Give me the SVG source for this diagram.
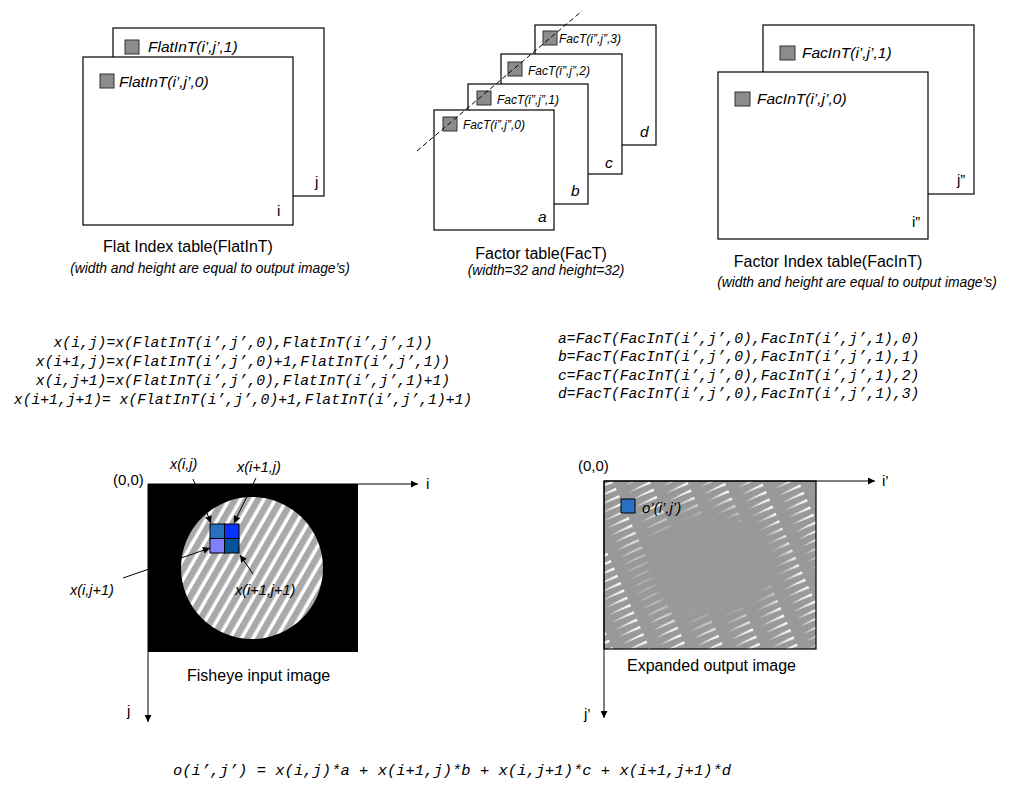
<svg xmlns="http://www.w3.org/2000/svg" width="1017" height="795" viewBox="0 0 1017 795">
<style>
.t{font-family:"Liberation Sans",Arial,sans-serif;fill:#000}
.it{font-style:italic}
.title{font-size:16px}
.note{font-size:13.8px;font-style:italic}
.lbl{font-size:15.5px;font-style:italic}
.sm{font-size:12px;font-style:italic}
.ax{font-size:15px}
.mono{font-family:"Liberation Mono","DejaVu Sans Mono",monospace;font-style:italic;font-size:14.7px;fill:#000}
.sheet{fill:#fff;stroke:#000;stroke-width:1.2}
.cell{fill:#8c8c8c;stroke:#333;stroke-width:1}
.line{stroke:#000;stroke-width:1;fill:none}
</style>
<defs>
<marker id="arr" viewBox="0 0 10 10" refX="10" refY="5" markerWidth="11" markerHeight="7" markerUnits="userSpaceOnUse" orient="auto">
<path d="M0,0 L10,5 L0,10 z" fill="#000"/>
</marker>
<marker id="arrs" viewBox="0 0 10 10" refX="10" refY="5" markerWidth="9" markerHeight="7" markerUnits="userSpaceOnUse" orient="auto">
<path d="M0,0 L10,5 L0,10 z" fill="#000"/>
</marker>
<pattern id="hatchIn" patternUnits="userSpaceOnUse" width="10" height="10" patternTransform="rotate(30)">
<rect width="10" height="10" fill="#fff"/>
<rect width="6.5" height="10" fill="#a9a9a9"/>
</pattern>
<pattern id="hatchOut" patternUnits="userSpaceOnUse" width="34" height="8" patternTransform="rotate(-24)">
<rect width="34" height="8" fill="#999"/>
<path d="M0,1.2 L24,0 L24,2.6 Z" fill="#fff"/>
</pattern>
<radialGradient id="edgeGrad" cx="0.5" cy="0.5" r="0.5">
<stop offset="0.55" stop-color="#000"/>
<stop offset="0.85" stop-color="#fff"/>
</radialGradient>
<mask id="edgeMask">
<rect x="604" y="481" width="212" height="168" fill="url(#edgeGrad)"/>
</mask>
<clipPath id="outClip"><rect x="604" y="481" width="212" height="168"/></clipPath>
</defs>

<g id="flatInT">
<rect class="sheet" x="113" y="28" width="211" height="168"/>
<rect class="cell" x="125" y="40" width="14" height="14"/>
<text class="t lbl" x="148" y="52">FlatInT(i’,j’,1)</text>
<text class="t ax" x="315" y="187">j</text>
<rect class="sheet" x="83" y="57" width="210" height="168"/>
<rect class="cell" x="100" y="74" width="14" height="14"/>
<text class="t lbl" x="119" y="87">FlatInT(i’,j’,0)</text>
<text class="t ax" x="277" y="216">i</text>
<text class="t title" x="188" y="252" text-anchor="middle">Flat Index table(FlatInT)</text>
<text class="t note" x="210" y="273" text-anchor="middle">(width and height are equal to output image’s)</text>
</g>

<g id="facT">
<rect class="sheet" x="535" y="25" width="121" height="120"/>
<rect class="cell" x="543" y="31" width="14" height="14"/>
<text class="t sm" x="559" y="43">FacT(i”,j”,3)</text>
<text class="t lbl" x="640" y="137">d</text>
<rect class="sheet" x="501" y="54" width="121" height="120"/>
<rect class="cell" x="508" y="62" width="14" height="14"/>
<text class="t sm" x="528" y="75">FacT(i”,j”,2)</text>
<text class="t lbl" x="605" y="168">c</text>
<rect class="sheet" x="468" y="84" width="120" height="120"/>
<rect class="cell" x="477" y="91" width="14" height="14"/>
<text class="t sm" x="497" y="104">FacT(i”,j”,1)</text>
<text class="t lbl" x="571" y="196">b</text>
<rect class="sheet" x="434" y="110" width="120" height="120"/>
<rect class="cell" x="443" y="117" width="14" height="14"/>
<text class="t sm" x="463" y="129">FacT(i”,j”,0)</text>
<text class="t lbl" x="538" y="222">a</text>
<line x1="417" y1="151" x2="582" y2="11" stroke="#000" stroke-width="1" stroke-dasharray="5,3"/>
<text class="t title" x="541" y="259" text-anchor="middle">Factor table(FacT)</text>
<text class="t note" x="546" y="275" text-anchor="middle">(width=32 and height=32)</text>
</g>

<g id="facInT">
<rect class="sheet" x="763" y="25" width="211" height="169"/>
<rect class="cell" x="780" y="46" width="15" height="14"/>
<text class="t lbl" x="802" y="58">FacInT(i’,j’,1)</text>
<text class="t ax" x="957" y="185">j”</text>
<rect class="sheet" x="718" y="72" width="210" height="167"/>
<rect class="cell" x="735" y="92" width="15" height="14"/>
<text class="t lbl" x="757" y="104">FacInT(i’,j’,0)</text>
<text class="t ax" x="912" y="227">i”</text>
<text class="t title" x="828" y="267" text-anchor="middle">Factor Index table(FacInT)</text>
<text class="t note" x="857" y="287" text-anchor="middle">(width and height are equal to output image’s)</text>
</g>

<g id="formulas-x">
<text class="mono" x="243" y="347" text-anchor="middle">x(i,j)=x(FlatInT(i’,j’,0),FlatInT(i’,j’,1))</text>
<text class="mono" x="243" y="366" text-anchor="middle">x(i+1,j)=x(FlatInT(i’,j’,0)+1,FlatInT(i’,j’,1))</text>
<text class="mono" x="243" y="385" text-anchor="middle">x(i,j+1)=x(FlatInT(i’,j’,0),FlatInT(i’,j’,1)+1)</text>
<text class="mono" x="243" y="404" text-anchor="middle">x(i+1,j+1)= x(FlatInT(i’,j’,0)+1,FlatInT(i’,j’,1)+1)</text>
</g>

<g id="formulas-abcd">
<text class="mono" x="558" y="343">a=FacT(FacInT(i’,j’,0),FacInT(i’,j’,1),0)</text>
<text class="mono" x="558" y="361">b=FacT(FacInT(i’,j’,0),FacInT(i’,j’,1),1)</text>
<text class="mono" x="558" y="380">c=FacT(FacInT(i’,j’,0),FacInT(i’,j’,1),2)</text>
<text class="mono" x="558" y="398">d=FacT(FacInT(i’,j’,0),FacInT(i’,j’,1),3)</text>
</g>

<g id="fisheye">
<rect x="148" y="484" width="210" height="168" fill="#000"/>
<circle cx="252" cy="568" r="71" fill="url(#hatchIn)"/>
<rect x="210" y="524" width="14.5" height="14.5" fill="#2870c0" stroke="#000" stroke-width="1"/>
<rect x="224.5" y="524" width="14.5" height="14.5" fill="#0533ff" stroke="#000" stroke-width="1"/>
<rect x="210" y="538.5" width="14.5" height="14.5" fill="#8080ff" stroke="#000" stroke-width="1"/>
<rect x="224.5" y="538.5" width="14.5" height="14.5" fill="#055299" stroke="#000" stroke-width="1"/>
<line class="line" x1="148" y1="484" x2="418" y2="484" marker-end="url(#arr)"/>
<line class="line" x1="148" y1="484" x2="148" y2="722" marker-end="url(#arr)"/>
<text class="t ax" x="113" y="485">(0,0)</text>
<text class="t ax" x="426" y="489">i</text>
<text class="t ax" x="127" y="716">j</text>
<text class="t title" x="187" y="681">Fisheye input image</text>
<text class="t lbl" x="170" y="469" style="font-size:14.5px">x(i,j)</text>
<text class="t lbl" x="237" y="472" style="font-size:14.5px">x(i+1,j)</text>
<text class="t lbl" x="70" y="595" style="font-size:14.5px">x(i,j+1)</text>
<text class="t lbl" x="235" y="595" style="font-size:14.5px">x(i+1,j+1)</text>
</g>

<g id="connectors">
<line class="line" x1="193" y1="479" x2="211" y2="523" marker-end="url(#arrs)"/>
<line class="line" x1="256" y1="478" x2="234" y2="523" marker-end="url(#arrs)"/>
<line class="line" x1="123" y1="578" x2="210" y2="548" marker-end="url(#arrs)"/>
<line class="line" x1="253" y1="574" x2="240" y2="555" marker-end="url(#arrs)"/>
</g>

<g id="output">
<rect x="604" y="481" width="212" height="168" fill="#999"/>
<g clip-path="url(#outClip)">
<rect x="604" y="481" width="212" height="168" fill="url(#hatchOut)" mask="url(#edgeMask)"/>
</g>
<rect x="604" y="481" width="212" height="168" fill="none" stroke="#000" stroke-width="1.2"/>
<rect x="621" y="499" width="14" height="14" fill="#2870c0" stroke="#000" stroke-width="1"/>
<text class="t lbl" x="642" y="513" style="font-size:15px">o’(i’,j’)</text>
<line class="line" x1="604" y1="481" x2="875" y2="481" marker-end="url(#arr)"/>
<line class="line" x1="604" y1="481" x2="604" y2="718" marker-end="url(#arr)"/>
<text class="t ax" x="578" y="471">(0,0)</text>
<text class="t ax" x="882" y="486">i’</text>
<text class="t ax" x="584" y="719">j’</text>
<text class="t title" x="627" y="671">Expanded output image</text>
</g>

<g id="formula-o">
<text class="mono" x="173" y="775" style="font-size:15.5px">o(i’,j’) = x(i,j)*a +  x(i+1,j)*b + x(i,j+1)*c + x(i+1,j+1)*d</text>
</g>
</svg>
